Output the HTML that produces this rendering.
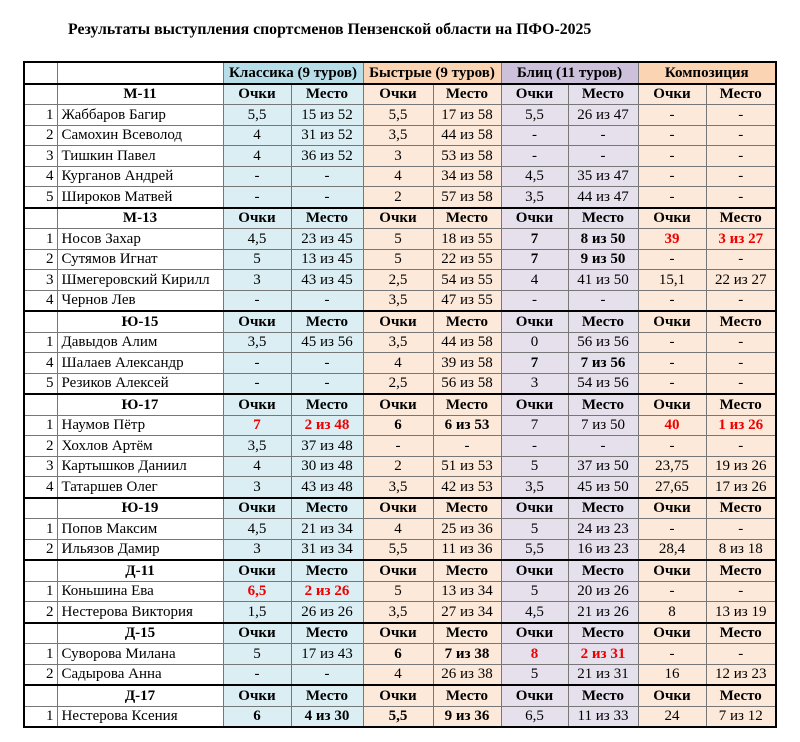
<!DOCTYPE html>
<html><head><meta charset="utf-8"><style>
body{margin:0;width:800px;height:742px;background:#fff;font-family:"Liberation Serif","DejaVu Serif",serif;position:relative;overflow:hidden}
.t{position:absolute;left:68px;top:21px;font-size:15.8px;font-weight:bold;letter-spacing:0px}
table{position:absolute;left:23px;top:61px;border-collapse:collapse;table-layout:fixed;border:2px solid #000;font-size:15px}
td{border:1px solid #777;height:19.5px;padding:0;text-align:center;white-space:nowrap;overflow:hidden;line-height:18px}
td.n{text-align:right;padding-right:3px}
td.nm{text-align:left;padding-left:4px}
tr.h td{font-weight:bold;border-bottom:2px solid #000}
tr.g td{font-weight:bold;border-top:2px solid #000}
.c{background:#daeef3}.b{background:#fde9d9}.z{background:#e5e0ec}.k{background:#fde9d9}
tr.h .c{background:#b7dee8}tr.h .b{background:#fbd4b4}tr.h .z{background:#ccc0da}tr.h .k{background:#fbd4b4}
.r{color:#e00;font-weight:bold}.B{font-weight:bold}
</style></head><body>
<div class="t">Результаты выступления спортсменов Пензенской области на ПФО-2025</div>
<table>
<colgroup><col style="width:33px"><col style="width:166px"><col style="width:68px"><col style="width:72px"><col style="width:70px"><col style="width:68px"><col style="width:67px"><col style="width:70px"><col style="width:68px"><col style="width:70px"></colgroup>
<tr class="h"><td></td><td></td><td class="c" colspan="2">Классика (9 туров)</td><td class="b" colspan="2">Быстрые (9 туров)</td><td class="z" colspan="2">Блиц (11 туров)</td><td class="k" colspan="2">Композиция</td></tr>
<tr style="font-weight:bold"><td></td><td>М-11</td><td class="c">Очки</td><td class="c">Место</td><td class="b">Очки</td><td class="b">Место</td><td class="z">Очки</td><td class="z">Место</td><td class="k">Очки</td><td class="k">Место</td></tr>
<tr><td class="n">1</td><td class="nm">Жаббаров Багир</td><td class="c">5,5</td><td class="c">15 из 52</td><td class="b">5,5</td><td class="b">17 из 58</td><td class="z">5,5</td><td class="z">26 из 47</td><td class="k">-</td><td class="k">-</td></tr>
<tr><td class="n">2</td><td class="nm">Самохин Всеволод</td><td class="c">4</td><td class="c">31 из 52</td><td class="b">3,5</td><td class="b">44 из 58</td><td class="z">-</td><td class="z">-</td><td class="k">-</td><td class="k">-</td></tr>
<tr><td class="n">3</td><td class="nm">Тишкин Павел</td><td class="c">4</td><td class="c">36 из 52</td><td class="b">3</td><td class="b">53 из 58</td><td class="z">-</td><td class="z">-</td><td class="k">-</td><td class="k">-</td></tr>
<tr><td class="n">4</td><td class="nm">Курганов Андрей</td><td class="c">-</td><td class="c">-</td><td class="b">4</td><td class="b">34 из 58</td><td class="z">4,5</td><td class="z">35 из 47</td><td class="k">-</td><td class="k">-</td></tr>
<tr><td class="n">5</td><td class="nm">Широков Матвей</td><td class="c">-</td><td class="c">-</td><td class="b">2</td><td class="b">57 из 58</td><td class="z">3,5</td><td class="z">44 из 47</td><td class="k">-</td><td class="k">-</td></tr>
<tr class="g"><td></td><td>М-13</td><td class="c">Очки</td><td class="c">Место</td><td class="b">Очки</td><td class="b">Место</td><td class="z">Очки</td><td class="z">Место</td><td class="k">Очки</td><td class="k">Место</td></tr>
<tr><td class="n">1</td><td class="nm">Носов Захар</td><td class="c">4,5</td><td class="c">23 из 45</td><td class="b">5</td><td class="b">18 из 55</td><td class="z B">7</td><td class="z B">8 из 50</td><td class="k r">39</td><td class="k r">3 из 27</td></tr>
<tr><td class="n">2</td><td class="nm">Сутямов Игнат</td><td class="c">5</td><td class="c">13 из 45</td><td class="b">5</td><td class="b">22 из 55</td><td class="z B">7</td><td class="z B">9 из 50</td><td class="k">-</td><td class="k">-</td></tr>
<tr><td class="n">3</td><td class="nm">Шмегеровский Кирилл</td><td class="c">3</td><td class="c">43 из 45</td><td class="b">2,5</td><td class="b">54 из 55</td><td class="z">4</td><td class="z">41 из 50</td><td class="k">15,1</td><td class="k">22 из 27</td></tr>
<tr><td class="n">4</td><td class="nm">Чернов Лев</td><td class="c">-</td><td class="c">-</td><td class="b">3,5</td><td class="b">47 из 55</td><td class="z">-</td><td class="z">-</td><td class="k">-</td><td class="k">-</td></tr>
<tr class="g"><td></td><td>Ю-15</td><td class="c">Очки</td><td class="c">Место</td><td class="b">Очки</td><td class="b">Место</td><td class="z">Очки</td><td class="z">Место</td><td class="k">Очки</td><td class="k">Место</td></tr>
<tr><td class="n">1</td><td class="nm">Давыдов Алим</td><td class="c">3,5</td><td class="c">45 из 56</td><td class="b">3,5</td><td class="b">44 из 58</td><td class="z">0</td><td class="z">56 из 56</td><td class="k">-</td><td class="k">-</td></tr>
<tr><td class="n">4</td><td class="nm">Шалаев Александр</td><td class="c">-</td><td class="c">-</td><td class="b">4</td><td class="b">39 из 58</td><td class="z B">7</td><td class="z B">7 из 56</td><td class="k">-</td><td class="k">-</td></tr>
<tr><td class="n">5</td><td class="nm">Резиков Алексей</td><td class="c">-</td><td class="c">-</td><td class="b">2,5</td><td class="b">56 из 58</td><td class="z">3</td><td class="z">54 из 56</td><td class="k">-</td><td class="k">-</td></tr>
<tr class="g"><td></td><td>Ю-17</td><td class="c">Очки</td><td class="c">Место</td><td class="b">Очки</td><td class="b">Место</td><td class="z">Очки</td><td class="z">Место</td><td class="k">Очки</td><td class="k">Место</td></tr>
<tr><td class="n">1</td><td class="nm">Наумов Пётр</td><td class="c r">7</td><td class="c r">2 из 48</td><td class="b B">6</td><td class="b B">6 из 53</td><td class="z">7</td><td class="z">7 из 50</td><td class="k r">40</td><td class="k r">1 из 26</td></tr>
<tr><td class="n">2</td><td class="nm">Хохлов Артём</td><td class="c">3,5</td><td class="c">37 из 48</td><td class="b">-</td><td class="b">-</td><td class="z">-</td><td class="z">-</td><td class="k">-</td><td class="k">-</td></tr>
<tr><td class="n">3</td><td class="nm">Картышков Даниил</td><td class="c">4</td><td class="c">30 из 48</td><td class="b">2</td><td class="b">51 из 53</td><td class="z">5</td><td class="z">37 из 50</td><td class="k">23,75</td><td class="k">19 из 26</td></tr>
<tr><td class="n">4</td><td class="nm">Татаршев Олег</td><td class="c">3</td><td class="c">43 из 48</td><td class="b">3,5</td><td class="b">42 из 53</td><td class="z">3,5</td><td class="z">45 из 50</td><td class="k">27,65</td><td class="k">17 из 26</td></tr>
<tr class="g"><td></td><td>Ю-19</td><td class="c">Очки</td><td class="c">Место</td><td class="b">Очки</td><td class="b">Место</td><td class="z">Очки</td><td class="z">Место</td><td class="k">Очки</td><td class="k">Место</td></tr>
<tr><td class="n">1</td><td class="nm">Попов Максим</td><td class="c">4,5</td><td class="c">21 из 34</td><td class="b">4</td><td class="b">25 из 36</td><td class="z">5</td><td class="z">24 из 23</td><td class="k">-</td><td class="k">-</td></tr>
<tr><td class="n">2</td><td class="nm">Ильязов Дамир</td><td class="c">3</td><td class="c">31 из 34</td><td class="b">5,5</td><td class="b">11 из 36</td><td class="z">5,5</td><td class="z">16 из 23</td><td class="k">28,4</td><td class="k">8 из 18</td></tr>
<tr class="g"><td></td><td>Д-11</td><td class="c">Очки</td><td class="c">Место</td><td class="b">Очки</td><td class="b">Место</td><td class="z">Очки</td><td class="z">Место</td><td class="k">Очки</td><td class="k">Место</td></tr>
<tr><td class="n">1</td><td class="nm">Коньшина Ева</td><td class="c r">6,5</td><td class="c r">2 из 26</td><td class="b">5</td><td class="b">13 из 34</td><td class="z">5</td><td class="z">20 из 26</td><td class="k">-</td><td class="k">-</td></tr>
<tr><td class="n">2</td><td class="nm">Нестерова Виктория</td><td class="c">1,5</td><td class="c">26 из 26</td><td class="b">3,5</td><td class="b">27 из 34</td><td class="z">4,5</td><td class="z">21 из 26</td><td class="k">8</td><td class="k">13 из 19</td></tr>
<tr class="g"><td></td><td>Д-15</td><td class="c">Очки</td><td class="c">Место</td><td class="b">Очки</td><td class="b">Место</td><td class="z">Очки</td><td class="z">Место</td><td class="k">Очки</td><td class="k">Место</td></tr>
<tr><td class="n">1</td><td class="nm">Суворова Милана</td><td class="c">5</td><td class="c">17 из 43</td><td class="b B">6</td><td class="b B">7 из 38</td><td class="z r">8</td><td class="z r">2 из 31</td><td class="k">-</td><td class="k">-</td></tr>
<tr><td class="n">2</td><td class="nm">Садырова Анна</td><td class="c">-</td><td class="c">-</td><td class="b">4</td><td class="b">26 из 38</td><td class="z">5</td><td class="z">21 из 31</td><td class="k">16</td><td class="k">12 из 23</td></tr>
<tr class="g"><td></td><td>Д-17</td><td class="c">Очки</td><td class="c">Место</td><td class="b">Очки</td><td class="b">Место</td><td class="z">Очки</td><td class="z">Место</td><td class="k">Очки</td><td class="k">Место</td></tr>
<tr><td class="n">1</td><td class="nm">Нестерова Ксения</td><td class="c B">6</td><td class="c B">4 из 30</td><td class="b B">5,5</td><td class="b B">9 из 36</td><td class="z">6,5</td><td class="z">11 из 33</td><td class="k">24</td><td class="k">7 из 12</td></tr>
</table>
</body></html>
